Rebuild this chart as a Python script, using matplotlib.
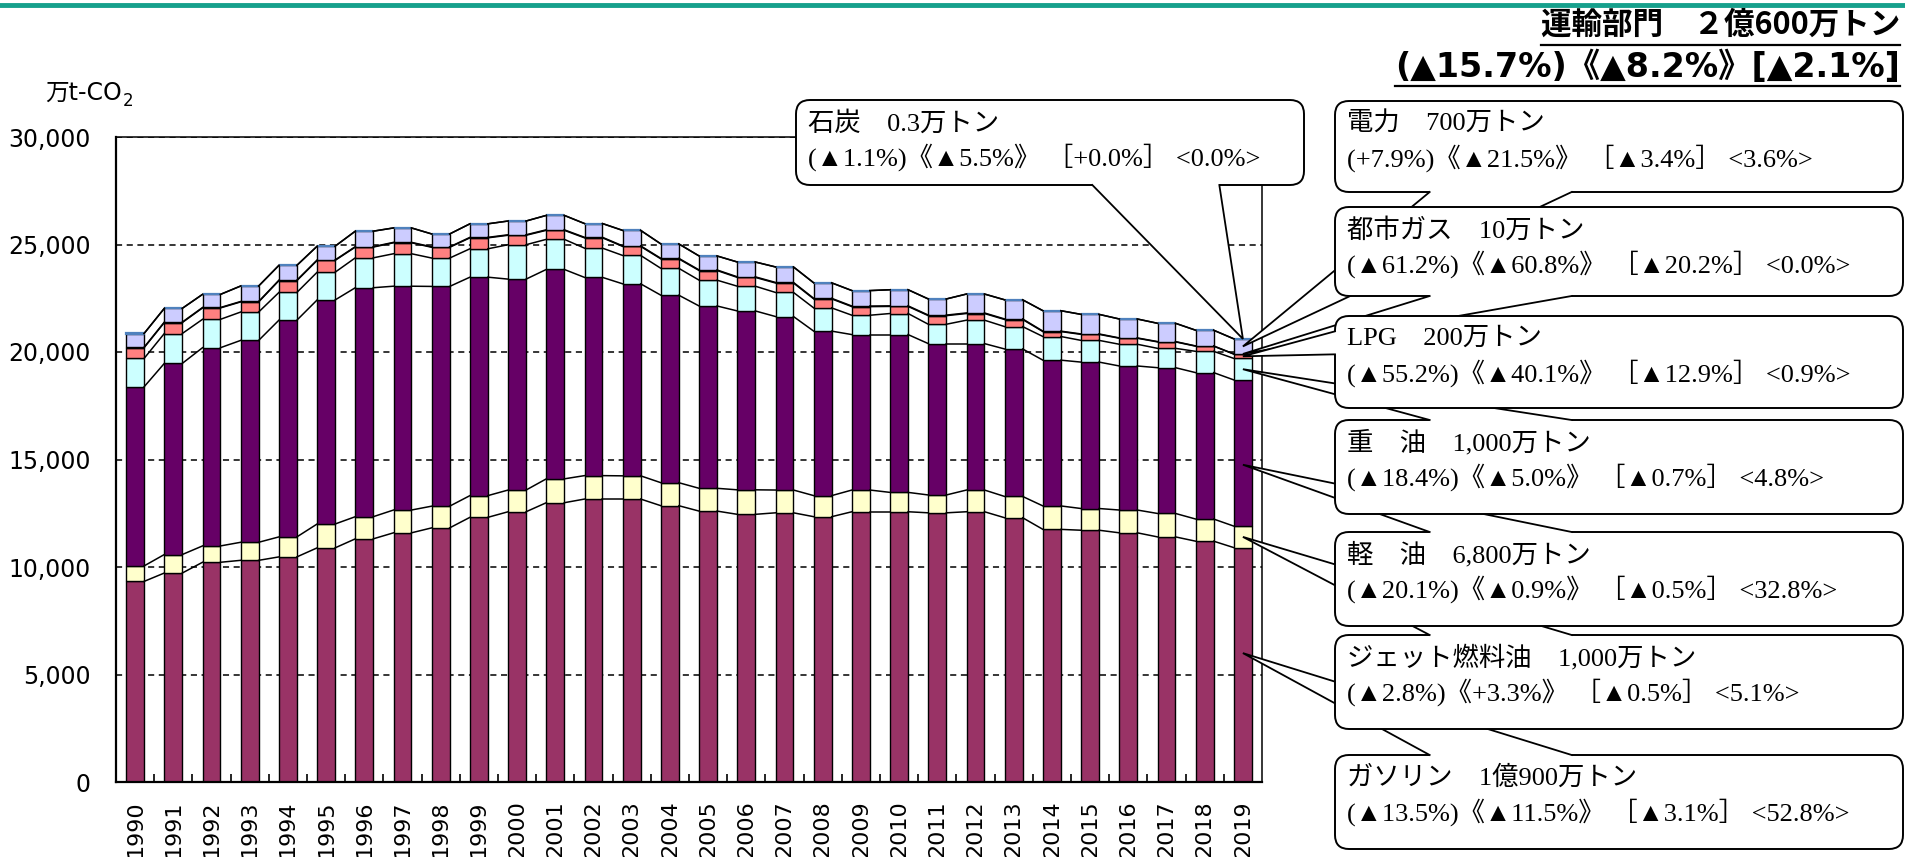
import matplotlib
matplotlib.use("Agg")
import matplotlib.pyplot as plt
from matplotlib.patches import FancyBboxPatch, Polygon
from matplotlib.ticker import FuncFormatter
import numpy as np

# ---- data (万t-CO2) ----
YEARS = list(range(1990, 2020))
GASOLINE = [9330, 9720, 10220, 10310, 10470, 10890, 11310, 11590, 11820, 12310,
            12570, 12990, 13160, 13160, 12850, 12600, 12450, 12520, 12340, 12570,
            12570, 12520, 12570, 12290, 11750, 11710, 11590, 11400, 11200, 10900]
JET_FUEL = [720, 860, 760, 840, 930, 1110, 1030, 1060, 1010, 1010,
            1010, 1110, 1090, 1080, 1070, 1060, 1140, 1060, 980, 1010,
            900, 830, 1010, 990, 1090, 1010, 1060, 1090, 1030, 1000]
DIESEL = [8330, 8890, 9220, 9390, 10080, 10420, 10650, 10410, 10220, 10160,
          9810, 9740, 9220, 8930, 8720, 8480, 8320, 8070, 7650, 7230,
          7340, 7040, 6810, 6860, 6780, 6810, 6700, 6780, 6810, 6800]
HEAVY_OIL = [1320, 1390, 1320, 1320, 1290, 1290, 1390, 1510, 1320, 1320,
             1600, 1400, 1360, 1320, 1250, 1200, 1150, 1120, 1080, 900,
             980, 900, 1090, 1040, 1100, 1010, 1010, 900, 990, 1000]
LPG = [500, 510, 530, 470, 550, 550, 500, 510, 500, 510,
       440, 420, 480, 420, 440, 450, 410, 440, 420, 400,
       330, 400, 310, 330, 230, 280, 280, 300, 240, 200]
CITY_GAS = [20, 20, 20, 20, 20, 20, 20, 20, 20, 22,
            22, 24, 24, 25, 25, 26, 26, 26, 26, 26,
            26, 26, 26, 26, 20, 20, 15, 15, 12, 10]
ELECTRICITY = [640, 640, 610, 720, 690, 640, 720, 670, 600, 630,
               640, 670, 640, 720, 670, 650, 690, 720, 720, 720,
               750, 750, 880, 890, 950, 910, 880, 850, 730, 700]
COAL = [0.6, 0.6, 0.6, 0.5, 0.5, 0.5, 0.5, 0.5, 0.5, 0.5,
        0.4, 0.4, 0.4, 0.4, 0.4, 0.3, 0.3, 0.3, 0.3, 0.3,
        0.3, 0.3, 0.3, 0.3, 0.3, 0.3, 0.3, 0.3, 0.3, 0.3]

SERIES = [GASOLINE, JET_FUEL, DIESEL, HEAVY_OIL, LPG, CITY_GAS, ELECTRICITY, COAL]
COLORS = ["#993366", "#FFFFCC", "#660066", "#CCFFFF", "#FF8080", "#333399", "#CCCCFF", "#4F81BD"]

TITLE_1 = "運輸部門　２億600万トン"
TITLE_2 = "(▲15.7%)《▲8.2%》[▲2.1%]"
Y_UNIT = "万t-CO"

# callout texts: (series index it points to, line 1, line 2)
CALLOUTS = {
    "coal": (7, "石炭　0.3万トン", "(▲1.1%)《▲5.5%》 ［+0.0%］ <0.0%>"),
    "elec": (6, "電力　700万トン", "(+7.9%)《▲21.5%》 ［▲3.4%］ <3.6%>"),
    "gas": (5, "都市ガス　10万トン", "(▲61.2%)《▲60.8%》 ［▲20.2%］ <0.0%>"),
    "lpg": (4, "LPG　200万トン", "(▲55.2%)《▲40.1%》 ［▲12.9%］ <0.9%>"),
    "heavy": (3, "重　油　1,000万トン", "(▲18.4%)《▲5.0%》 ［▲0.7%］ <4.8%>"),
    "diesel": (2, "軽　油　6,800万トン", "(▲20.1%)《▲0.9%》 ［▲0.5%］ <32.8%>"),
    "jet": (1, "ジェット燃料油　1,000万トン", "(▲2.8%)《+3.3%》 ［▲0.5%］ <5.1%>"),
    "petrol": (0, "ガソリン　1億900万トン", "(▲13.5%)《▲11.5%》 ［▲3.1%］ <52.8%>"),
}

W, H = 1906, 857
SERIF = ["Liberation Serif", "Noto Sans CJK JP"]
GOTHIC = ["Noto Sans CJK JP", "DejaVu Sans"]

fig = plt.figure(figsize=(W / 100, H / 100), dpi=100, facecolor="white")
ax = fig.add_axes([116 / W, 75 / H, 1146 / W, 645 / H])

x = np.arange(len(YEARS))
bw = 0.47
bottom = np.zeros(len(YEARS))
tops = []
for vals, col in zip(SERIES, COLORS):
    vals = np.asarray(vals, dtype=float)
    if col == "#4F81BD":
        ax.bar(x, vals, bw, bottom=bottom, color=col, edgecolor=col, linewidth=1.6, zorder=2)
    else:
        ax.bar(x, vals, bw, bottom=bottom, color=col, edgecolor="black", linewidth=1.0, zorder=2)
    bottom = bottom + vals
    tops.append(bottom.copy())

# series lines between neighbouring bars
for top in tops:
    for i in range(len(x) - 1):
        ax.plot([x[i] + bw / 2, x[i + 1] - bw / 2], [top[i], top[i + 1]],
                color="black", lw=1.1, zorder=3)

ax.set_xlim(-0.5, len(x) - 0.5)
ax.set_ylim(0, 30000)
ax.set_yticks(range(0, 30001, 5000))
ax.yaxis.set_major_formatter(FuncFormatter(lambda v, _: f"{int(v):,}"))
ax.tick_params(axis="y", length=0, pad=18, labelsize=17)
ax.set_xticks(x, [str(y) for y in YEARS], rotation=90)
ax.tick_params(axis="x", which="major", length=0, pad=13, labelsize=16)
ax.set_xticks(np.arange(0.5, len(x) - 1, 1), minor=True)
ax.tick_params(axis="x", which="minor", direction="in", length=6, width=1.2)
ax.yaxis.grid(True, linestyle=(0, (4, 3)), color="black", lw=1.1)
ax.set_axisbelow(True)
for side, lw in [("left", 1.6), ("bottom", 1.6), ("top", 1.1), ("right", 1.1)]:
    ax.spines[side].set_linewidth(lw)

# overlay in image pixel coordinates (y down) for annotations
ov = fig.add_axes([0, 0, 1, 1], zorder=5)
ov.set_xlim(0, W)
ov.set_ylim(H, 0)
ov.axis("off")
ov.patch.set_alpha(0)

ov.plot([0, W], [4.5, 4.5], color="#16A08C", lw=3.5)


def to_px(xd, yd):
    px, py = ax.transData.transform((xd, yd))
    return px, H - py


def callout(box, tip, line1, line2, z):
    x0, y0, x1, y1 = box
    w, h = x1 - x0, y1 - y0
    cx, cy = (x0 + x1) / 2, (y0 + y1) / 2
    dx, dy = (tip[0] - cx) / w, (tip[1] - cy) / h
    if abs(dy) > abs(dx):
        ey = y1 if dy > 0 else y0
        if dx < 0:
            xs = (x0 + w / 6, x0 + w * 5 / 12)
        else:
            xs = (x0 + w * 7 / 12, x0 + w * 5 / 6)
        b0, b1 = (xs[0], ey), (xs[1], ey)
        sh = (0, -4 if dy > 0 else 4)
    else:
        ex = x0 if dx < 0 else x1
        if dy < 0:
            ys = (y0 + h / 6, y0 + h * 5 / 12)
        else:
            ys = (y0 + h * 7 / 12, y0 + h * 5 / 6)
        b0, b1 = (ex, ys[0]), (ex, ys[1])
        sh = (4 if dx < 0 else -4, 0)
    ov.add_patch(FancyBboxPatch((x0, y0), w, h, boxstyle="round,pad=0,rounding_size=14",
                                facecolor="white", edgecolor="black", lw=1.4, zorder=z))
    b0i = (b0[0] + sh[0], b0[1] + sh[1])
    b1i = (b1[0] + sh[0], b1[1] + sh[1])
    ov.add_patch(Polygon([b0i, b0, tip, b1, b1i], closed=True, facecolor="white",
                         edgecolor="none", zorder=z + 0.1))
    ov.plot([b0[0], tip[0], b1[0]], [b0[1], tip[1], b1[1]], color="black", lw=1.3,
            zorder=z + 0.2, solid_joinstyle="miter")
    ov.text(x0 + 12, y0 + 23, line1, ha="left", va="center", fontsize=19,
            family=SERIF, zorder=z + 0.3)
    ov.text(x0 + 12, y0 + 57, line2, ha="left", va="center", fontsize=19,
            family=SERIF, zorder=z + 0.3)


last = len(x) - 1
bottoms = [np.zeros(len(x))] + tops[:-1]
tip_frac = {"coal": 1.0, "elec": 0.5, "gas": 1.0, "lpg": 0.5, "heavy": 0.5,
            "diesel": 0.42, "jet": 0.5, "petrol": 0.55}
boxes = {
    "coal": (796, 100, 1304, 185),
    "elec": (1335, 101, 1903, 192),
    "gas": (1335, 207, 1903, 296),
    "lpg": (1335, 316, 1903, 408),
    "heavy": (1335, 420, 1903, 514),
    "diesel": (1335, 532, 1903, 626),
    "jet": (1335, 635, 1903, 729),
    "petrol": (1335, 755, 1903, 849),
}
order = ["coal", "elec", "gas", "petrol", "jet", "diesel", "heavy", "lpg"]
for k, key in enumerate(order):
    idx, l1, l2 = CALLOUTS[key]
    lo, hi = bottoms[idx][last], tops[idx][last]
    tip = to_px(x[last], lo + (hi - lo) * tip_frac[key])
    callout(boxes[key], tip, l1, l2, 10 + k)

t1 = ov.text(1900, 25, TITLE_1, ha="right", va="center", fontsize=22,
             fontweight="bold", family=GOTHIC)
t2 = ov.text(1900, 67, TITLE_2, ha="right", va="center", fontsize=24,
             fontweight="bold", family=["DejaVu Sans", "Noto Sans CJK JP"])
u = ov.text(45, 93, Y_UNIT, ha="left", va="center", fontsize=17,
            family=["DejaVu Sans", "Noto Sans CJK JP"])

fig.canvas.draw()
r = fig.canvas.get_renderer()
for t, yline in [(t1, 45), (t2, 86)]:
    bb = t.get_window_extent(r)
    ov.plot([bb.x0, bb.x1], [yline, yline], color="black", lw=1.6)
bb = u.get_window_extent(r)
ov.text(bb.x1 + 1, 101, "2", ha="left", va="center", fontsize=12, family="DejaVu Sans")

fig.savefig("out.png", dpi=100)
